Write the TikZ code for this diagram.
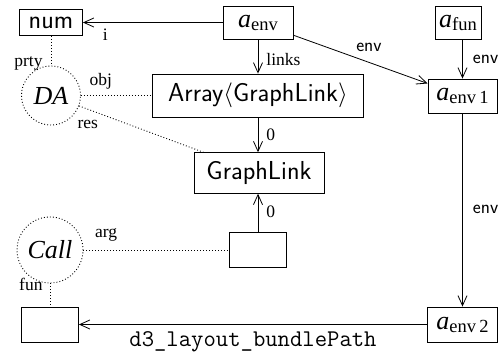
\documentclass[tikz,border=0pt]{standalone}
\usepackage{fontspec}
\setmainfont{Liberation Serif}
\usetikzlibrary{arrows.meta}
\newcommand\mysub[1]{\raisebox{-3pt}{\fontsize{18.5}{20}\selectfont #1}}
\begin{document}
\begin{tikzpicture}[x=1pt,y=-1pt,
  box/.style={draw, line width=0.8pt, inner sep=0pt},
  big/.style={font=\fontsize{26}{30}\selectfont},
  sfbig/.style={font=\sffamily\fontsize{26}{30}\selectfont},
  lbl/.style={font=\fontsize{17.5}{20}\selectfont, inner sep=2pt},
  sflbl/.style={font=\sffamily\fontsize{19}{22}\selectfont, inner sep=2pt},
  ttlbl/.style={font=\ttfamily\fontsize{24}{28}\selectfont, inner sep=2pt},
  arr/.style={line width=0.8pt, -{Straight Barb[length=10pt,width=9pt]}},
  dotline/.style={line width=0.9pt, dash pattern=on 0.9pt off 2.1pt},
  circ/.style={circle, draw, dotline, inner sep=0pt},
]
\useasboundingbox (0,0) rectangle (498,352);
% boxes
\node[box, sfbig, minimum width=63pt, minimum height=26pt] (num) at (51,22.5) {num};
\node[box, big, minimum width=70pt, minimum height=33pt] (aenv) at (258,22.5) {\textit{a}\mysub{env}};
\node[box, big, minimum width=46pt, minimum height=33pt] (afun) at (458,22.5) {\textit{a}\mysub{fun}};
\node[box, big, minimum width=69pt, minimum height=34pt] (aenv1) at (462.5,96) {\textit{a}\mysub{env\,1}};
\node[box, big, minimum width=70pt, minimum height=35pt] (aenv2) at (462.5,324.5) {\textit{a}\mysub{env\,2}};
\node[box, sfbig, minimum width=211pt, minimum height=43pt] (array) at (258,95.5) {Array$\langle$GraphLink$\rangle$};
\node[box, sfbig, minimum width=130pt, minimum height=40.6pt] (gl) at (259,173) {GraphLink};
\node[box, minimum width=57pt, minimum height=35pt] (argbox) at (258,250) {};
\node[box, minimum width=57pt, minimum height=35pt] (funbox) at (50,324.5) {};
\node[circ, big, minimum size=59pt] (DA) at (51,95.5) {\textit{DA}};
\node[circ, big, minimum size=66pt] (Call) at (50,250) {\textit{Call}};
% solid arrows
\draw[arr] (aenv) -- node[lbl, below=4pt, pos=0.84]{i} (num);
\draw[arr] (aenv) -- node[lbl, right=6pt, pos=0.59]{links} (array);
\draw[arr] (array.south) -- node[lbl, right=6pt, pos=0.5]{0} (array.south |- gl.north);
\draw[arr] (argbox.north) -- node[lbl, right=6pt, pos=0.54]{0} (argbox.north |- gl.south);
\draw[arr] (aenv) -- node[sflbl, above=8pt, pos=0.563]{env} (aenv1);
\draw[arr] (aenv1.north |- afun.south) -- node[sflbl, right=8pt, pos=0.5]{env} (aenv1.north);
\draw[arr] (aenv1) -- node[sflbl, right=8pt, pos=0.495]{env} (aenv2);
\draw[arr] (aenv2) -- node[ttlbl, below=5pt, pos=0.5]{d3\_layout\_bundlePath} (funbox);
% dotted links
\draw[dotline] (num) -- node[lbl, left=6pt, pos=0.915]{prty} (DA);
\draw[dotline] (DA) -- node[lbl, above=3.5pt, pos=0.28]{obj} (array);
\draw[dotline] (DA) -- node[lbl, below=8.5pt, pos=0.07]{res} (gl);
\draw[dotline] (Call) -- node[lbl, above=6pt, pos=0.155]{arg} (argbox);
\draw[dotline] (Call) -- node[lbl, left=5pt, pos=0.05]{fun} (funbox);
\end{tikzpicture}
\end{document}
